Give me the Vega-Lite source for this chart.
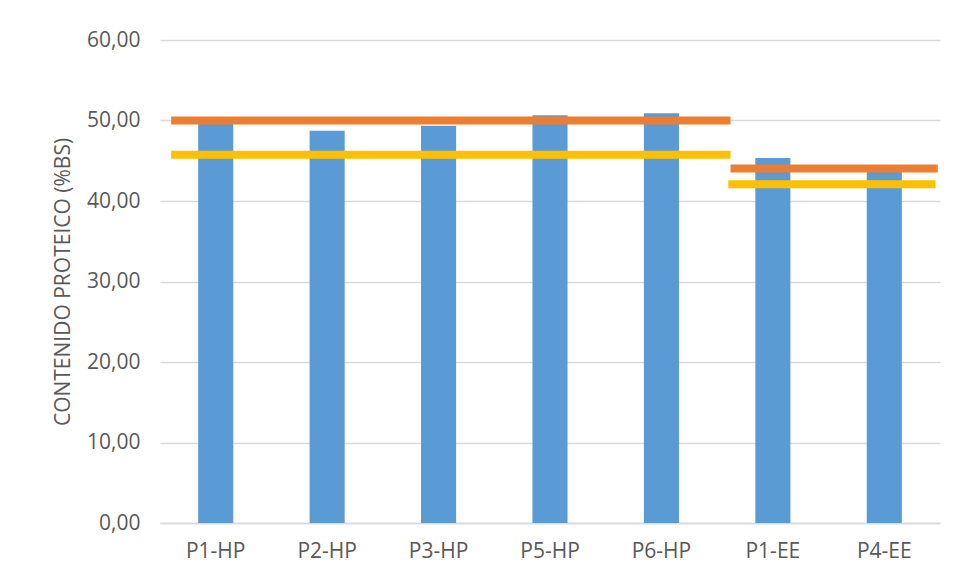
{
  "$schema": "https://vega.github.io/schema/vega-lite/v6.json",
  "width": 780,
  "height": 483,
  "autosize": "none",
  "padding": {"left": 160, "top": 40, "right": 19, "bottom": 59},
  "background": "white",
  "config": {
    "view": {"stroke": null},
    "font": "Open Sans",
    "axis": {"labelColor": "#595959", "titleColor": "#595959", "labelFontSize": 21, "titleFontSize": 21, "titleFontWeight": "normal"}
  },
  "datasets": {
    "muestras": [
      {"muestra": "P1-HP", "proteina": 49.8},
      {"muestra": "P2-HP", "proteina": 48.73},
      {"muestra": "P3-HP", "proteina": 49.35},
      {"muestra": "P5-HP", "proteina": 50.64},
      {"muestra": "P6-HP", "proteina": 50.89},
      {"muestra": "P1-EE", "proteina": 45.34},
      {"muestra": "P4-EE", "proteina": 43.9}
    ],
    "referencias": [
      {"grupo": "HP", "serie": "superior", "inicio": 0.1, "fin": 5.12, "valor": 50.0},
      {"grupo": "HP", "serie": "inferior", "inicio": 0.1, "fin": 5.12, "valor": 45.75},
      {"grupo": "EE", "serie": "superior", "inicio": 5.12, "fin": 6.98, "valor": 44.05},
      {"grupo": "EE", "serie": "inferior", "inicio": 5.1, "fin": 6.96, "valor": 42.09}
    ]
  },
  "layer": [
    {
      "data": {"name": "muestras"},
      "mark": {"type": "bar", "color": "#5B9BD5", "width": {"band": 0.315}},
      "encoding": {
        "x": {
          "field": "muestra",
          "type": "nominal",
          "sort": null,
          "scale": {"paddingInner": 0, "paddingOuter": 0},
          "axis": {"title": null, "labelAngle": 0, "ticks": false, "domainColor": "#d9d9d9", "domainWidth": 1.5, "labelPadding": 17}
        },
        "y": {
          "field": "proteina",
          "type": "quantitative",
          "scale": {"domain": [0, 60]},
          "axis": {
            "title": "CONTENIDO PROTEICO (%BS)",
            "values": [0, 10, 20, 30, 40, 50, 60],
            "labelExpr": "replace(format(datum.value, '.2f'), '.', ',')",
            "domain": false,
            "ticks": false,
            "gridColor": "#d9d9d9",
            "gridWidth": 1.5,
            "labelPadding": 20,
            "titlePadding": 13
          }
        }
      }
    },
    {
      "data": {"name": "referencias"},
      "mark": {"type": "rule", "strokeWidth": 8, "strokeCap": "butt"},
      "encoding": {
        "x": {"field": "inicio", "type": "quantitative", "scale": {"domain": [0, 7], "nice": false, "zero": true}, "axis": null},
        "x2": {"field": "fin"},
        "y": {"field": "valor", "type": "quantitative"},
        "color": {
          "field": "serie",
          "type": "nominal",
          "scale": {"domain": ["superior", "inferior"], "range": ["#ED7D31", "#FFC000"]},
          "legend": null
        }
      }
    }
  ],
  "resolve": {"scale": {"x": "independent"}, "axis": {"x": "independent"}}
}
